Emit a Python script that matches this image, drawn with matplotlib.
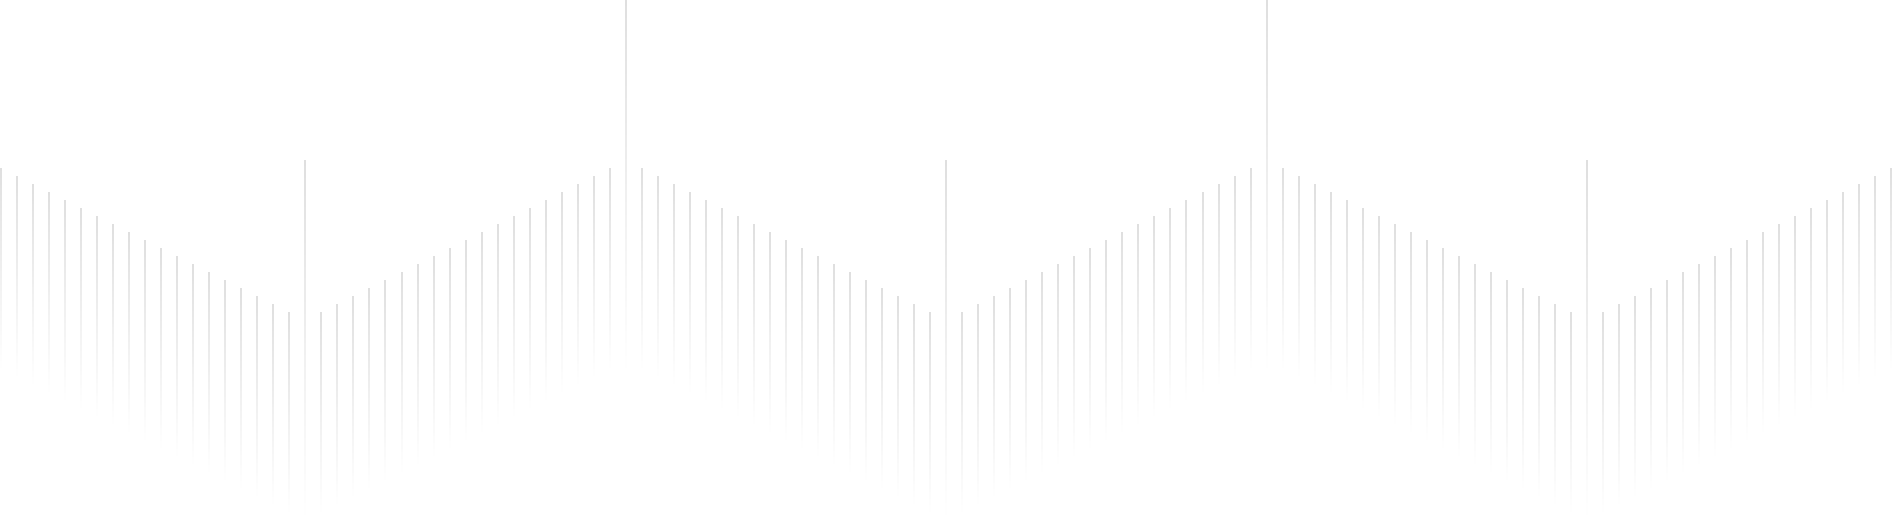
import numpy as np
import matplotlib
matplotlib.use('Agg')
import matplotlib.pyplot as plt
from matplotlib.collections import LineCollection

# ===== data: top of each line (px from top) and its fade length =====
tops = [
    168, 176, 184, 192, 200, 208, 216, 224, 232, 240, 248, 256, 264, 272, 280, 288, 296, 304, 312, 160,
    312, 304, 296, 288, 280, 272, 264, 256, 248, 240, 232, 224, 216, 208, 200, 192, 184, 176, 168, 0,
    168, 176, 184, 192, 200, 208, 216, 224, 232, 240, 248, 256, 264, 272, 280, 288, 296, 304, 312, 160,
    312, 304, 296, 288, 280, 272, 264, 256, 248, 240, 232, 224, 216, 208, 200, 192, 184, 176, 168, 0,
    168, 176, 184, 192, 200, 208, 216, 224, 232, 240, 248, 256, 264, 272, 280, 288, 296, 304, 312, 160,
    312, 304, 296, 288, 280, 272, 264, 256, 248, 240, 232, 224, 216, 208, 200, 192, 184, 176, 168,
]
fade_len = [
    200, 200, 200, 200, 200, 200, 200, 200, 200, 200, 200, 200, 200, 200, 200, 200, 200, 200, 200, 355,
    200, 200, 200, 200, 200, 200, 200, 200, 200, 200, 200, 200, 200, 200, 200, 200, 200, 200, 200, 368,
    200, 200, 200, 200, 200, 200, 200, 200, 200, 200, 200, 200, 200, 200, 200, 200, 200, 200, 200, 355,
    200, 200, 200, 200, 200, 200, 200, 200, 200, 200, 200, 200, 200, 200, 200, 200, 200, 200, 200, 368,
    200, 200, 200, 200, 200, 200, 200, 200, 200, 200, 200, 200, 200, 200, 200, 200, 200, 200, 200, 355,
    200, 200, 200, 200, 200, 200, 200, 200, 200, 200, 200, 200, 200, 200, 200, 200, 200, 200, 200,
]

W, H = 1892, 523
spacing = 16.02
n_steps = 60
base_rgb = np.array([0.84, 0.84, 0.84])

fig = plt.figure(figsize=(W / 100, H / 100), dpi=100)
ax = fig.add_axes([0, 0, 1, 1])
ax.set_xlim(0, W)
ax.set_ylim(H, 0)
ax.axis('off')

segs = []
cols = []
for i, (t, L) in enumerate(zip(tops, fade_len)):
    x = 1 + spacing * i
    ys = np.linspace(t, t + L, n_steps + 1)
    for j in range(n_steps):
        segs.append([(x, ys[j]), (x, ys[j + 1])])
        a = 1.0 - (j + 0.5) / n_steps
        cols.append((*base_rgb, a))

lc = LineCollection(segs, colors=cols, linewidths=1.1, capstyle='butt')
ax.add_collection(lc)

fig.savefig('out.png', dpi=100, facecolor='white')
